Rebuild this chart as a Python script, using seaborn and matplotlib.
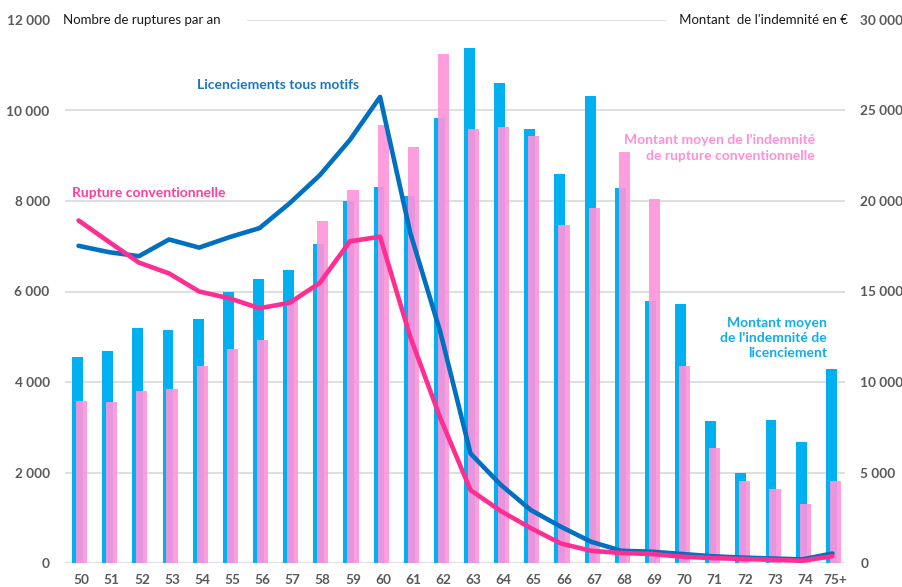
import numpy as np
import pandas as pd
import matplotlib
matplotlib.use("Agg")
import matplotlib.pyplot as plt
from matplotlib.ticker import FuncFormatter, MultipleLocator
import seaborn as sns

ages = ["50", "51", "52", "53", "54", "55", "56", "57", "58", "59", "60", "61", "62",
        "63", "64", "65", "66", "67", "68", "69", "70", "71", "72", "73", "74", "75+"]

# montant moyen de l'indemnite (axe de droite, en euros)
indem_licenciement = [11400, 11700, 13000, 12850, 13500, 15000, 15700, 16200, 17650, 20000,
                      20800, 20300, 24600, 28450, 26500, 24000, 21500, 25800, 20700, 14500,
                      14300, 7850, 4950, 7900, 6700, 10700]
indem_rupture = [8950, 8900, 9500, 9600, 10900, 11800, 12300, 14500, 18900, 20600,
                 24200, 23000, 28100, 24000, 24100, 23600, 18700, 19600, 22700, 20100,
                 10900, 6350, 4550, 4100, 3250, 4550]

# nombre de ruptures par an (axe de gauche)
nb_licenciements = [7010, 6870, 6780, 7150, 6970, 7200, 7400, 7950, 8570, 9350,
                    10300, 7300, 5100, 2420, 1730, 1170, 800, 470, 270, 250,
                    200, 150, 120, 100, 80, 210]
nb_ruptures = [7570, 7100, 6640, 6400, 6000, 5850, 5630, 5750, 6190, 7110,
               7210, 5000, 3200, 1610, 1150, 770, 430, 270, 220, 200,
               140, 110, 90, 70, 50, 150]

BAR_BLUE = "#00b0f0"
BAR_PINK = "#ff94da"
LINE_BLUE = "#0070c0"
LINE_PINK = "#ff2e93"
GREY = "#5a5a5a"

plt.rcParams["font.family"] = ["Lato", "DejaVu Sans"]

pos = np.arange(len(ages))
df = pd.DataFrame({"pos": pos, "age": ages,
                   "indem_lic": indem_licenciement, "indem_rc": indem_rupture,
                   "nb_lic": nb_licenciements, "nb_rc": nb_ruptures})

fig = plt.figure(figsize=(9.03, 5.87), dpi=100)
ax = fig.add_axes([65 / 903, 1 - 563 / 587, 780 / 903, 543 / 587])

# barres (axe de droite)
sns.barplot(x=df.pos - 0.035, y=df.indem_lic, ax=ax, native_scale=True, width=0.36,
            color=BAR_BLUE, saturation=1, linewidth=0, zorder=2)
sns.barplot(x=df.pos + 0.1, y=df.indem_rc, ax=ax, native_scale=True, width=0.37,
            color=BAR_PINK, saturation=1, linewidth=0, alpha=0.9, zorder=3)
ax.set_ylim(0, 30000)
ax.yaxis.set_major_locator(MultipleLocator(5000))
ax.yaxis.grid(True, color="#d9d9d9", linewidth=1.2)
ax.set_axisbelow(True)

# courbes (axe de gauche)
ax2 = ax.twinx()
sns.lineplot(x=df.pos, y=df.nb_lic, ax=ax2, color=LINE_BLUE, linewidth=3.3,
             solid_joinstyle="round", solid_capstyle="round")
sns.lineplot(x=df.pos, y=df.nb_rc, ax=ax2, color=LINE_PINK, linewidth=3.3,
             solid_joinstyle="round", solid_capstyle="round")
ax2.set_ylim(0, 12000)
ax2.yaxis.set_major_locator(MultipleLocator(2000))
ax.yaxis.tick_right()
ax2.yaxis.tick_left()

fmt = FuncFormatter(lambda v, p: f"{v:,.0f}".replace(",", " "))
for a in (ax, ax2):
    a.yaxis.set_major_formatter(fmt)
    a.set_xlim(-0.45, 25.42)
    a.set_xlabel("")
    a.set_ylabel("")
    for s in a.spines.values():
        s.set_visible(False)
    a.tick_params(length=0, labelsize=9.8, labelcolor=GREY)
    for lab in a.get_yticklabels():
        lab.set_fontweight("bold")

ax.set_xticks(pos + 0.1)
ax.set_xticklabels(ages, fontweight="bold")
ax.tick_params(axis="x", pad=8)
ax.tick_params(axis="y", pad=11)
ax2.tick_params(axis="y", pad=11)


def fx(px):
    return px / 903


def fy(py):
    return 1 - py / 587


fig.text(fx(63), fy(20), "Nombre de ruptures par an       ", fontsize=9.5, color="#1a1a1a",
         ha="left", va="center", bbox=dict(facecolor="white", edgecolor="none", pad=2))
fig.text(fx(848), fy(20), "   Montant  de l'indemnité en €", fontsize=9.5, color="#1a1a1a",
         ha="right", va="center", bbox=dict(facecolor="white", edgecolor="none", pad=2))

fig.text(fx(197), fy(85), "Licenciements tous motifs", fontsize=10, fontweight="bold",
         color="#1b75c2", ha="left", va="center")
fig.text(fx(72), fy(193), "Rupture conventionnelle", fontsize=10, fontweight="bold",
         color="#ff3d9e", ha="left", va="center")
fig.text(fx(815), fy(148), "Montant moyen de l'indemnité\nde rupture conventionnelle",
         fontsize=10, fontweight="bold", color="#ff8fd6", ha="right", va="center",
         multialignment="right", linespacing=1.3)
fig.text(fx(827), fy(338), "Montant moyen\nde l'indemnité de\nlicenciement",
         fontsize=10, fontweight="bold", color="#10aee8", ha="right", va="center",
         multialignment="right", linespacing=1.3)

fig.savefig("out.png", dpi=100, facecolor="white")
